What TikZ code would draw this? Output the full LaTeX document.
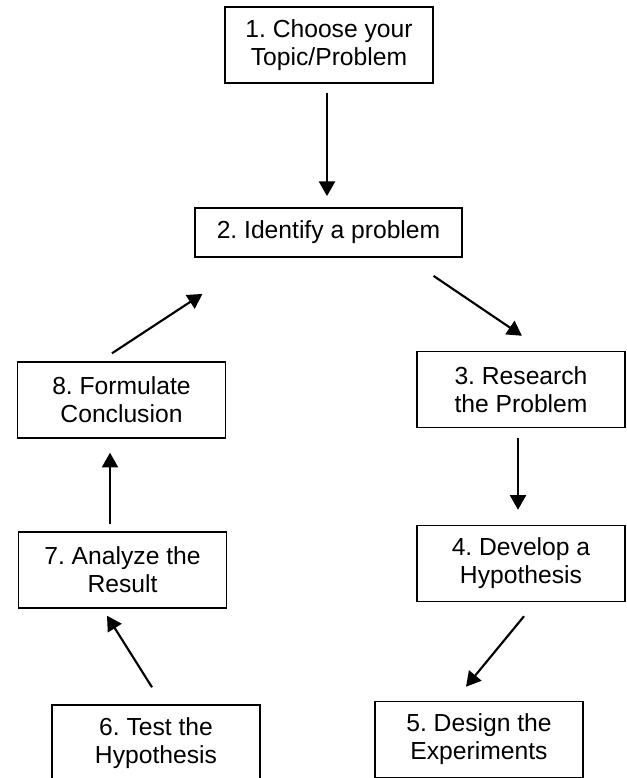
\documentclass[tikz,border=0pt]{standalone}
\usepackage{fontspec}
\setmainfont{Liberation Sans}
\usetikzlibrary{arrows.meta, calc}
\frenchspacing

\begin{document}
\begin{tikzpicture}[x=0.75pt, y=-0.75pt,
  stepbox/.style={draw, line width=1.1pt, align=center, inner sep=0pt,
    minimum width=156pt, minimum height=57pt, font=\fontsize{18.5}{21}\selectfont},
  arr/.style={-{Triangle[length=11pt, width=12pt]}, line width=1.6pt}]
  \useasboundingbox (0,0) rectangle (627,778);

  % Steps
  \node[stepbox] (choose) at (329, 45) {1. Choose your\\Topic/Problem};
  \node[stepbox, minimum width=200pt, minimum height=37pt] (identify) at (328.5, 232.5) {2. Identify a problem};
  \node[stepbox] (research) at (521, 389.5) {3. Research\\the Problem};
  \node[stepbox] (develop) at (521, 563.5) {4. Develop a\\Hypothesis};
  \node[stepbox] (design) at (479, 739.5) {5. Design the\\Experiments};
  \node[stepbox] (test) at (156, 743) {6. Test the\\Hypothesis};
  \node[stepbox] (analyze) at (122.5, 570) {7. Analyze the\\Result};
  \node[stepbox] (conclude) at (121.5, 400) {8. Formulate\\Conclusion};

  % Cycle
  \draw[arr] ($(choose.south)+(-2,9)$) -- ($(identify.north)+(-1.5,-11)$);
  \draw[arr] ($(identify.south east)+(-29,18)$) -- ($(research.north)+(1,-15)$);
  \draw[arr] ($(research.south)+(-3,10)$) -- ($(develop.north)+(-3,-15)$);
  \draw[arr] ($(develop.south)+(3,14)$) -- ($(design.north)+(-13,-14)$);
  \draw[arr] ($(test.north)+(-4,-17)$) -- ($(analyze.south)+(-15.5,7)$);
  \draw[arr] ($(analyze.north)+(-12.5,-7)$) -- ($(conclude.south)+(-11.5,14)$);
  \draw[arr] ($(conclude.north)+(-9.5,-8)$) -- ($(identify.south west)+(8,36)$);
\end{tikzpicture}
\end{document}
